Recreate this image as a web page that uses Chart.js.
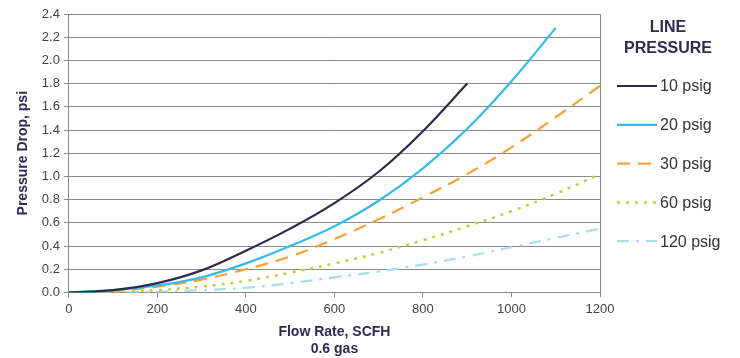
<!DOCTYPE html>
<html>
<head>
<meta charset="utf-8">
<script src="https://cdn.jsdelivr.net/npm/chart.js@4.4.1/dist/chart.umd.min.js"></script>
<style>
  html, body { margin: 0; padding: 0; background: #fff; }
  #wrap { width: 740px; height: 358px; }
</style>
</head>
<body>
<div id="wrap"><canvas id="dropChart" width="740" height="358"></canvas></div>
<script>
// flow rate, SCFH (0.6 gas)
const flowRate = [0, 100, 200, 300, 400, 500, 600, 700, 800, 900, 1000, 1100, 1200];
// pressure drop, psi, per line pressure (null = no reading)
const psig10  = [0, 0.02, 0.08, 0.19, 0.36, 0.55, 0.77, 1.04, 1.39, 1.80, null, null, null];
const psig20  = [0, 0.02, 0.06, 0.13, 0.25, 0.40, 0.57, 0.79, 1.07, 1.41, 1.82, 2.28, null];
const psig30  = [0, 0.01, 0.05, 0.11, 0.20, 0.31, 0.46, 0.63, 0.82, 1.02, 1.25, 1.51, 1.78];
const psig60  = [0, 0.00, 0.02, 0.05, 0.10, 0.17, 0.25, 0.34, 0.45, 0.57, 0.70, 0.85, 1.02];
const psig120 = [0, 0.00, 0.005, 0.02, 0.04, 0.08, 0.13, 0.18, 0.24, 0.31, 0.39, 0.47, 0.55];

const seriesLabels = ['10 psig', '20 psig', '30 psig', '60 psig', '120 psig'];
const legendTitle = ['LINE', 'PRESSURE'];
const xTitle = ['Flow Rate, SCFH', '0.6 gas'];
const yTitle = 'Pressure Drop, psi';

const navy = '#2b2b55';

function puntos(valores) {
    const out = [];
    for (let i = 0; i < flowRate.length; i++) {
        if (valores[i] !== null) out.push({ x: flowRate[i], y: valores[i] });
    }
    return out;
}

const estilos = [
    { color: '#2a2a4c', dash: [], width: 2.2 },
    { color: '#35bbe9', dash: [], width: 2.2 },
    { color: '#f7a234', dash: [13, 8], width: 2.2 },
    { color: '#bcd23e', dash: [3, 6], width: 2.5 },
    { color: '#a9dcec', dash: [12, 7, 3, 7], width: 2.2 }
];
const valores = [psig10, psig20, psig30, psig60, psig120];

const datasets = valores.map((v, i) => ({
    label: seriesLabels[i],
    data: puntos(v),
    borderColor: estilos[i].color,
    backgroundColor: estilos[i].color,
    borderDash: estilos[i].dash,
    borderWidth: estilos[i].width,
    pointRadius: 0,
    fill: false,
    tension: 0.4
}));

// legend on the right + right border of the plot
const leyenda = {
    id: 'leyenda',
    afterDraw(chart) {
        const ctx = chart.ctx;
        const area = chart.chartArea;
        ctx.save();
        ctx.strokeStyle = '#8c8c8c';
        ctx.lineWidth = 1;
        ctx.beginPath();
        ctx.moveTo(area.right + 0.5, area.top);
        ctx.lineTo(area.right + 0.5, area.bottom);
        ctx.stroke();

        ctx.fillStyle = navy;
        ctx.font = 'bold 16px "Liberation Sans", Arial, sans-serif';
        ctx.textAlign = 'center';
        ctx.textBaseline = 'middle';
        ctx.fillText(legendTitle[0], 668, 28);
        ctx.fillText(legendTitle[1], 668, 49);

        ctx.font = '16px "Liberation Sans", Arial, sans-serif';
        ctx.textAlign = 'left';
        chart.data.datasets.forEach((ds, i) => {
            const y = 86 + i * 38.8;
            ctx.strokeStyle = ds.borderColor;
            ctx.lineWidth = ds.borderWidth;
            ctx.setLineDash(ds.borderDash);
            ctx.beginPath();
            ctx.moveTo(617, y);
            ctx.lineTo(657, y);
            ctx.stroke();
            ctx.setLineDash([]);
            ctx.fillStyle = '#333';
            ctx.fillText(ds.label, 660, y + 1);
        });
        ctx.restore();
    }
};

const ctx = document.getElementById('dropChart').getContext('2d');
const chart = new Chart(ctx, {
    type: 'line',
    data: { datasets: datasets },
    options: {
        responsive: false,
        animation: false,
        layout: { padding: { top: 14, right: 140, left: 15, bottom: 0 } },
        plugins: {
            legend: { display: false },
            tooltip: { enabled: false }
        },
        scales: {
            x: {
                type: 'linear',
                min: 0,
                max: 1200,
                ticks: {
                    stepSize: 200,
                    color: '#444',
                    padding: 4,
                    callback: v => String(v),
                    font: { family: '"Liberation Sans", Arial', size: 13 }
                },
                grid: {
                    drawOnChartArea: false,
                    drawTicks: true,
                    tickLength: 5,
                    color: '#8c8c8c'
                },
                border: { color: '#8c8c8c' },
                title: {
                    display: true,
                    text: xTitle,
                    color: navy,
                    padding: { top: 2, bottom: 0 },
                    font: { family: '"Liberation Sans", Arial', size: 14, weight: 'bold', lineHeight: 1.25 }
                }
            },
            y: {
                min: 0,
                max: 2.4,
                ticks: {
                    stepSize: 0.2,
                    color: '#444',
                    padding: 4,
                    callback: v => v.toFixed(1),
                    font: { family: '"Liberation Sans", Arial', size: 13 }
                },
                grid: {
                    color: '#8c8c8c',
                    tickLength: 5
                },
                border: { color: '#8c8c8c' },
                title: {
                    display: true,
                    text: yTitle,
                    color: navy,
                    padding: { top: 0, bottom: 6 },
                    font: { family: '"Liberation Sans", Arial', size: 14, weight: 'bold' }
                }
            }
        }
    },
    plugins: [leyenda]
});
</script>
</body>
</html>
